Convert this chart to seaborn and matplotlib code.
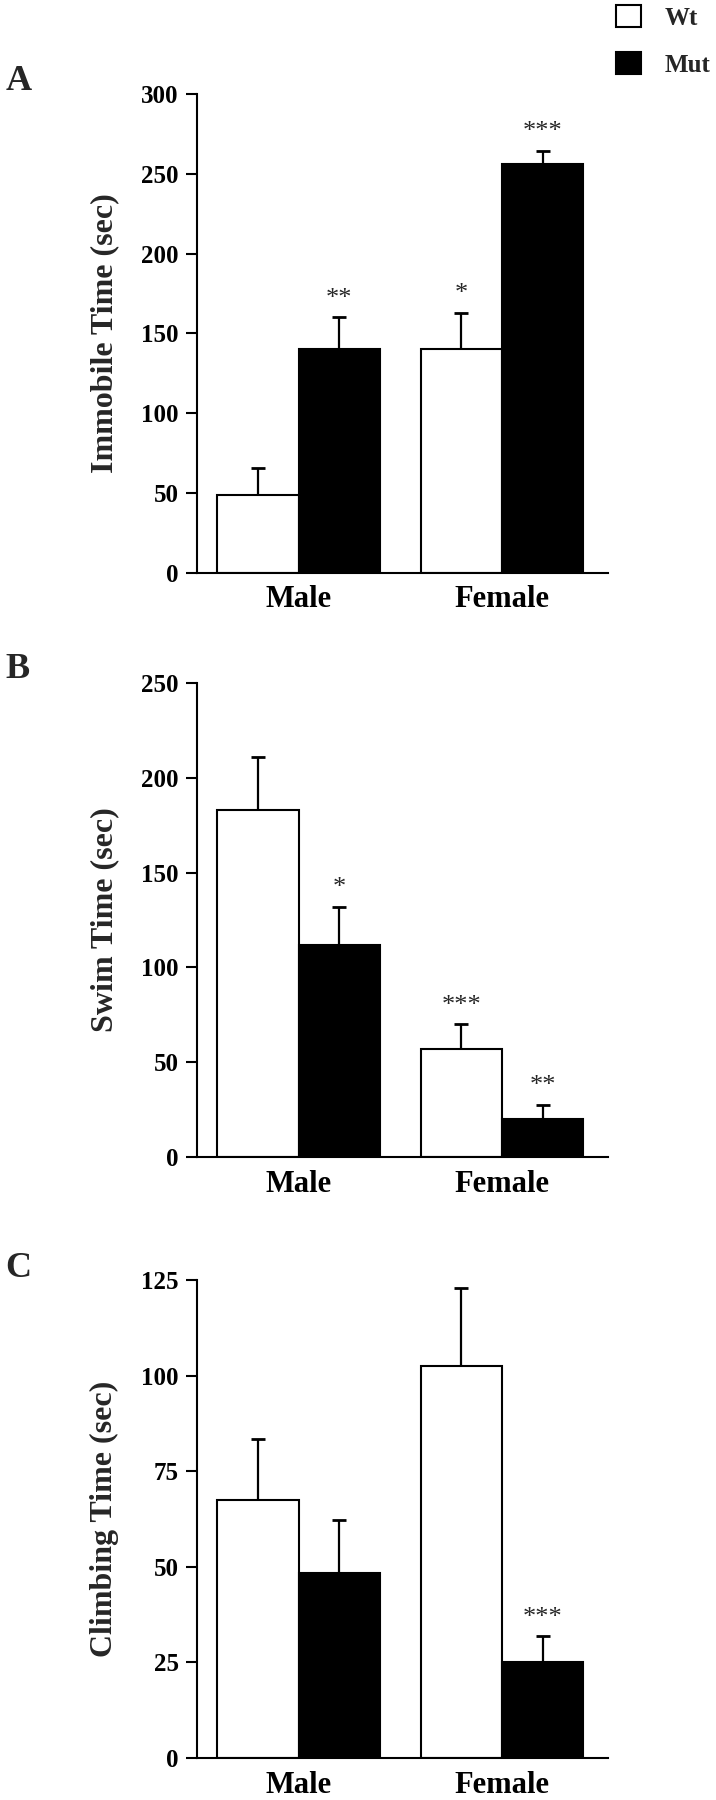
"""
Forced swim test: immobile / swim / climbing time by sex and genotype
"""

import pandas as pd
import matplotlib
matplotlib.use("Agg")
import matplotlib.pyplot as plt
import seaborn as sns


# ============================================================
# Data
# ============================================================

sexes = ["Male", "Female"]
genotypes = ["Wt", "Mut"]

# Panel A - Immobile time
immobile_wt = [49, 140]
immobile_mut = [140, 256]
immobile_wt_sem = [17, 23]
immobile_mut_sem = [20, 8.5]
immobile_wt_stars = ["", "*"]
immobile_mut_stars = ["**", "***"]

# Panel B - Swim time
swim_wt = [183, 57]
swim_mut = [112, 20]
swim_wt_sem = [28, 13]
swim_mut_sem = [20, 7.5]
swim_wt_stars = ["", "***"]
swim_mut_stars = ["*", "**"]

# Panel C - Climbing time
climb_wt = [67.6, 102.6]
climb_mut = [48.3, 25]
climb_wt_sem = [15.8, 20.2]
climb_mut_sem = [13.9, 6.8]
climb_wt_stars = ["", ""]
climb_mut_stars = ["", "***"]

panel_letters = ["A", "B", "C"]
y_labels = ["Immobile Time (sec)", "Swim Time (sec)", "Climbing Time (sec)"]
y_max = [300, 250, 125]
y_step = [50, 50, 25]


# ============================================================
# Theme
# ============================================================

sns.set_theme(style="ticks")

plt.rcParams["font.family"] = ["Liberation Serif", "DejaVu Serif"]
plt.rcParams["font.weight"] = "bold"
plt.rcParams["axes.labelweight"] = "bold"

fig = plt.figure(figsize=(7.16, 18), dpi=100)

# axes boxes in figure fraction [left, bottom, width, height]
boxes = [
    [0.275, 0.6817, 0.574, 0.2661],
    [0.275, 0.3572, 0.574, 0.2633],
    [0.275, 0.0233, 0.574, 0.2656],
]
letter_y = [0.950, 0.6233, 0.2906]

panels = [
    (immobile_wt, immobile_mut, immobile_wt_sem, immobile_mut_sem,
     immobile_wt_stars, immobile_mut_stars),
    (swim_wt, swim_mut, swim_wt_sem, swim_mut_sem,
     swim_wt_stars, swim_mut_stars),
    (climb_wt, climb_mut, climb_wt_sem, climb_mut_sem,
     climb_wt_stars, climb_mut_stars),
]

legend_handles = None

for i, (wt, mut, wt_sem, mut_sem, wt_stars, mut_stars) in enumerate(panels):

    ax = fig.add_axes(boxes[i])

    df = pd.DataFrame({
        "Sex": sexes + sexes,
        "Genotype": ["Wt"] * 2 + ["Mut"] * 2,
        "Time": wt + mut,
    })

    sns.barplot(
        data=df,
        x="Sex",
        y="Time",
        hue="Genotype",
        order=sexes,
        hue_order=genotypes,
        palette={"Wt": "white", "Mut": "black"},
        edgecolor="black",
        linewidth=1.5,
        width=0.8,
        errorbar=None,
        saturation=1,
        ax=ax,
    )

    if legend_handles is None:
        legend_handles, legend_labels = ax.get_legend_handles_labels()
    ax.get_legend().remove()

    sems = [wt_sem, mut_sem]
    stars = [wt_stars, mut_stars]

    bar_containers = list(ax.containers)

    for g, container in enumerate(bar_containers):
        for k, bar in enumerate(container):
            x = bar.get_x() + bar.get_width() / 2
            h = bar.get_height()
            err = sems[g][k]

            eb = ax.errorbar(
                x,
                h,
                yerr=[[0], [err]],
                fmt="none",
                ecolor="black",
                elinewidth=1.6,
                capsize=4.7,
                capthick=2.0,
                zorder=3,
            )
            # only the upper cap (one-sided SEM bar)
            eb[1][0].set_visible(False)

            if stars[g][k]:
                ax.annotate(
                    stars[g][k],
                    xy=(x, h + err),
                    xytext=(0, 9),
                    textcoords="offset points",
                    ha="center",
                    va="baseline",
                    fontsize=19,
                    fontweight="normal",
                )

    ax.set_xlim(-0.5, 1.52)
    ax.set_ylim(0, y_max[i])
    ax.set_yticks(range(0, y_max[i] + 1, y_step[i]))

    sns.despine(ax=ax)

    for side in ["left", "bottom"]:
        ax.spines[side].set_linewidth(1.5)
        ax.spines[side].set_color("black")

    ax.tick_params(axis="y", length=8, width=1.5, pad=5,
                   labelsize=18, colors="black")
    ax.tick_params(axis="x", length=0, pad=9, labelsize=22,
                   colors="black")

    ax.set_xlabel("")
    ax.set_ylabel(y_labels[i], fontsize=23, fontweight="bold")
    ax.yaxis.set_label_coords(-0.19, 0.5)

    fig.text(
        0.008,
        letter_y[i],
        panel_letters[i],
        fontsize=26,
        fontweight="bold",
        va="baseline",
    )


# ============================================================
# Legend
# ============================================================

fig.legend(
    legend_handles,
    legend_labels,
    loc="upper left",
    bbox_to_anchor=(0.86, 0.997),
    frameon=False,
    fontsize=18,
    handlelength=1.0,
    handleheight=0.95,
    handletextpad=0.95,
    labelspacing=0.9,
    borderpad=0,
    borderaxespad=0,
)

fig.savefig("out.png", dpi=100)

plt.close()
